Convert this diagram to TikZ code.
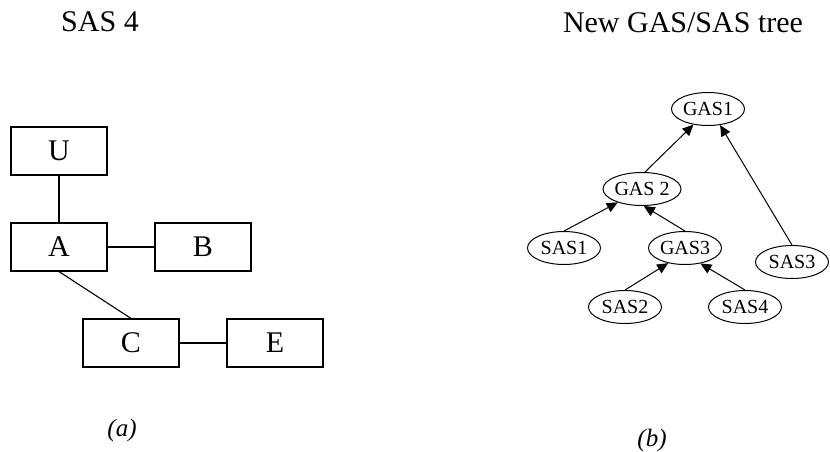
\documentclass[tikz,border=0pt]{standalone}
\usepackage{fontspec}
\setmainfont{Liberation Serif}
\usetikzlibrary{shapes.geometric,arrows.meta}

\begin{document}
\begin{tikzpicture}[x=1pt,y=-1pt,
  title/.style={font=\fontsize{30}{34}\selectfont, anchor=base, inner sep=0},
  caption/.style={font=\fontsize{25}{30}\selectfont\itshape, inner sep=0},
  block/.style={draw, line width=1.2pt, minimum width=96pt, minimum height=48pt,
    inner sep=0, font=\fontsize{30}{34}\selectfont},
  link/.style={line width=1.1pt},
  oval/.style={draw, ellipse, line width=1pt, minimum width=73pt, minimum height=33pt,
    inner sep=0, font=\fontsize{20}{24}\selectfont},
  up/.style={line width=1pt, -{Triangle[length=11pt,width=10pt]}}
]
\useasboundingbox (0,0) rectangle (830,452);

% left panel: SAS 4 structure
\node[title] (ttlA) at (100,32) {SAS 4};
\node[block] (U) at (59,151) {U};
\node[block] (A) at (59,247) {A};
\node[block] (B) at (203,247) {B};
\node[block] (C) at (131,343) {C};
\node[block] (E) at (275,343) {E};
\draw[link] (U) -- (A);
\draw[link] (A) -- (B);
\draw[link] (A.south) -- (C.north);
\draw[link] (C) -- (E);
\node[caption] (capA) at (122,430) {(a)};

% right panel: GAS/SAS tree
\node[title] (ttlB) at (683,33) {New GAS/SAS tree};
\node[oval] (gas1) at (708,109) {GAS1};
\node[oval, minimum width=78pt] (gas2) at (642,189) {GAS 2};
\node[oval] (sas1) at (564,248) {SAS1};
\node[oval] (gas3) at (685,248) {GAS3};
\node[oval] (sas3) at (792,262) {SAS3};
\node[oval] (sas2) at (625,307) {SAS2};
\node[oval] (sas4) at (745,307) {SAS4};
\draw[up] (gas2.80) -- (gas1.227);
\draw[up] (sas3.north) -- (gas1.307);
\draw[up] (sas1.north) -- (gas2.209);
\draw[up] (gas3.north) -- (gas2.276);
\draw[up] (sas2.north) -- (gas3.222);
\draw[up] (sas4.north) -- (gas3.315);
\node[caption] (capB) at (652,440) {(b)};
\end{tikzpicture}
\end{document}
